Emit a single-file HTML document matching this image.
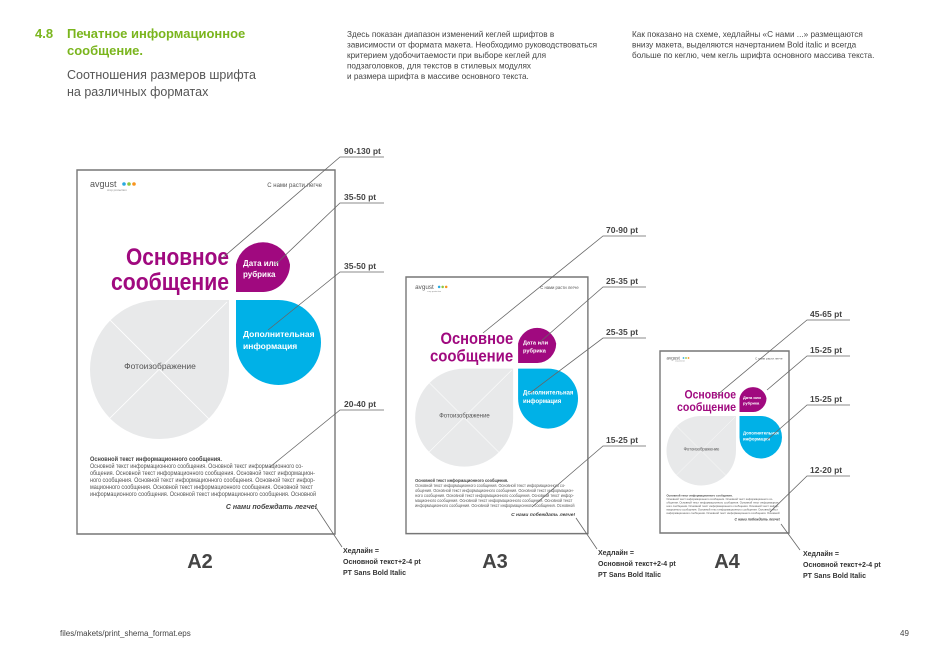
<!DOCTYPE html>
<html><head><meta charset="utf-8"><style>
html,body{margin:0;padding:0;background:#fff;}
svg{display:block;font-family:"Liberation Sans","DejaVu Sans",sans-serif;}
</style></head><body>
<svg width="928" height="655" viewBox="0 0 928 655" xmlns="http://www.w3.org/2000/svg">
<defs>
<g id="pg">
  <rect x="0" y="0" width="258" height="364" fill="#fff" stroke="#777" stroke-width="1.4" vector-effect="non-scaling-stroke"/>
  <text x="13" y="17" font-size="9" fill="#555">avgust</text>
  <circle cx="47" cy="14" r="1.8" fill="#29a9e0"/><circle cx="52" cy="14" r="1.8" fill="#8dc63f"/><circle cx="57" cy="14" r="1.8" fill="#f7941d"/>
  <text x="30" y="21" font-size="3" fill="#888">crop protection</text>
  <text x="245" y="17" font-size="6" fill="#555" text-anchor="end">С нами расти легче</text>
  <text x="152" y="95" font-size="24" font-weight="bold" fill="#a0097f" text-anchor="end" textLength="103" lengthAdjust="spacingAndGlyphs">Основное</text>
  <text x="152" y="120" font-size="24" font-weight="bold" fill="#a0097f" text-anchor="end" textLength="118" lengthAdjust="spacingAndGlyphs">сообщение</text>
  <path d="M159,122 V94.5 A27.5,27.5 0 0 1 213,94.5 A27.5,27.5 0 0 1 186.5,122 Z" fill="#a0097f"/>
  <text x="166" y="96" font-size="8" font-weight="bold" fill="#fff">Дата или</text>
  <text x="166" y="107" font-size="8" font-weight="bold" fill="#fff">рубрика</text>
  <path d="M159,130 H201.5 A42.5,42.5 0 1 1 159,172.5 Z" fill="#00b1e7"/>
  <text x="166" y="167" font-size="8.5" font-weight="bold" fill="#fff">Дополнительная</text>
  <text x="166" y="179" font-size="8.5" font-weight="bold" fill="#fff">информация</text>
  <path d="M152,130 V199 A69.5,69.5 0 1 1 82.5,130 Z" fill="#e8e9ea"/>
  <line x1="150" y1="132" x2="30" y2="251" stroke="#fff" stroke-width="0.8"/>
  <line x1="30" y1="147" x2="134" y2="251" stroke="#fff" stroke-width="0.8"/>
  <text x="83" y="199" font-size="8.5" fill="#555" text-anchor="middle">Фотоизображение</text>
  <text x="13" y="291" font-size="6.2" font-weight="bold" fill="#444" textLength="132" lengthAdjust="spacingAndGlyphs">Основной текст информационного сообщения.</text>
  <g font-size="6.2" fill="#555">
  <text x="13" y="298" textLength="213" lengthAdjust="spacingAndGlyphs">Основной текст информационного сообщения. Основной текст информационного со-</text>
  <text x="13" y="305" textLength="225" lengthAdjust="spacingAndGlyphs">общения. Основной текст информационного сообщения. Основной текст информацион-</text>
  <text x="13" y="312" textLength="225" lengthAdjust="spacingAndGlyphs">ного сообщения. Основной текст информационного сообщения. Основной текст инфор-</text>
  <text x="13" y="319" textLength="223" lengthAdjust="spacingAndGlyphs">мационного сообщения. Основной текст информационного сообщения. Основной текст</text>
  <text x="13" y="326" textLength="226" lengthAdjust="spacingAndGlyphs">информационного сообщения. Основной текст информационного сообщения. Основной</text>
  </g>
  <text x="240" y="339" font-size="7" font-weight="bold" font-style="italic" fill="#444" text-anchor="end">С нами побеждать легче!</text>
</g>
</defs>

<text x="35" y="38" font-size="13" font-weight="bold" fill="#7ab51d">4.8</text>
<text x="67" y="38" font-size="13" font-weight="bold" fill="#7ab51d">Печатное информационное</text>
<text x="67" y="55" font-size="13" font-weight="bold" fill="#7ab51d">сообщение.</text>
<text x="67" y="79" font-size="12.5" fill="#555">Соотношения размеров шрифта</text>
<text x="67" y="96" font-size="12.5" fill="#555">на различных форматах</text>
<g font-size="8.2" fill="#444">
<text x="347" y="37">Здесь показан диапазон изменений кеглей шрифтов в</text>
<text x="347" y="47.5">зависимости от формата макета. Необходимо руководствоваться</text>
<text x="347" y="58">критерием удобочитаемости при выборе кеглей для</text>
<text x="347" y="68.5">подзаголовков, для текстов в стилевых модулях</text>
<text x="347" y="79">и размера шрифта в массиве основного текста.</text>
<text x="632" y="37">Как показано на схеме, хедлайны «С нами ...» размещаются</text>
<text x="632" y="47.5">внизу макета, выделяются начертанием Bold italic и всегда</text>
<text x="632" y="58">больше по кеглю, чем кегль шрифта основного массива текста.</text>
</g>

<use href="#pg" transform="translate(77,170)"/>
<use href="#pg" transform="translate(406,277) scale(0.705)"/>
<use href="#pg" transform="translate(660,351) scale(0.5)"/>

<g font-size="20" font-weight="bold" fill="#444" text-anchor="middle">
<text x="200" y="568">A2</text>
<text x="495" y="568">A3</text>
<text x="727" y="568">A4</text>
</g>

<g stroke="#666" stroke-width="0.8" fill="none">
<path d="M384,157 H340 L220,260"/>
<path d="M384,203 H340 L275,265"/>
<path d="M384,272 H340 L268,330"/>
<path d="M384,410 H340 L270,467"/>
<path d="M315,506 L342,547"/>
<path d="M646,236 H603 L483,333"/>
<path d="M646,287 H603 L540,342"/>
<path d="M646,338 H603 L530,393"/>
<path d="M646,446 H603 L532,507"/>
<path d="M576,518 L597,549"/>
<path d="M850,320 H807 L717,395"/>
<path d="M850,356 H807 L767,390"/>
<path d="M850,405 H807 L767,440"/>
<path d="M850,476 H807 L770,512"/>
<path d="M781,524 L800,550"/>
</g>
<g font-size="8.5" font-weight="bold" fill="#444">
<text x="344" y="154">90-130 pt</text>
<text x="344" y="200">35-50 pt</text>
<text x="344" y="269">35-50 pt</text>
<text x="344" y="407">20-40 pt</text>
<text x="606" y="233">70-90 pt</text>
<text x="606" y="284">25-35 pt</text>
<text x="606" y="335">25-35 pt</text>
<text x="606" y="443">15-25 pt</text>
<text x="810" y="317">45-65 pt</text>
<text x="810" y="353">15-25 pt</text>
<text x="810" y="402">15-25 pt</text>
<text x="810" y="473">12-20 pt</text>
</g>
<g font-size="7" font-weight="bold" fill="#333">
<text x="343" y="553">Хедлайн =</text>
<text x="343" y="564">Основной текст+2-4 pt</text>
<text x="343" y="575">PT Sans Bold Italic</text>
<text x="598" y="555">Хедлайн =</text>
<text x="598" y="566">Основной текст+2-4 pt</text>
<text x="598" y="577">PT Sans Bold Italic</text>
<text x="803" y="556">Хедлайн =</text>
<text x="803" y="567">Основной текст+2-4 pt</text>
<text x="803" y="578">PT Sans Bold Italic</text>
</g>

<text x="60" y="636" font-size="8" fill="#444">files/makets/print_shema_format.eps</text>
<text x="900" y="636" font-size="8" fill="#444">49</text>
</svg>
</body></html>
